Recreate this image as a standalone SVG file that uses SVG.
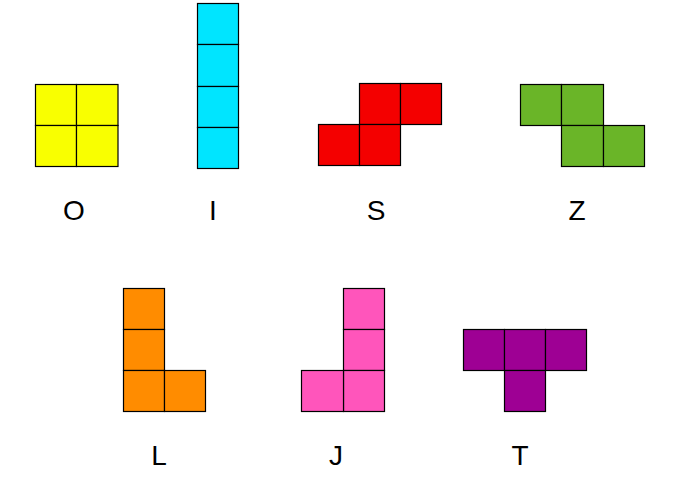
<svg xmlns="http://www.w3.org/2000/svg" width="679" height="488" viewBox="0 0 679 488">
<style>
.c{stroke:#000;stroke-width:1.2}
.o{fill:#F9FF00}.i{fill:#00E5FF}.s{fill:#F40000}.z{fill:#6AB528}
.l{fill:#FF8C00}.j{fill:#FF55BB}.t{fill:#9E0094}
text{font-family:"Liberation Sans",Arial,sans-serif;font-size:28px;fill:#000;text-anchor:middle}
</style>
<rect width="679" height="488" fill="#fff"/>
<g id="O">
<rect class="c o" x="35.5" y="84.5" width="41" height="41"/>
<rect class="c o" x="76.5" y="84.5" width="41.5" height="41"/>
<rect class="c o" x="35.5" y="125.5" width="41" height="41"/>
<rect class="c o" x="76.5" y="125.5" width="41.5" height="41"/>
<text x="74" y="220">O</text>
</g>
<g id="I">
<rect class="c i" x="197.5" y="3.5" width="41" height="41"/>
<rect class="c i" x="197.5" y="44.5" width="41" height="42"/>
<rect class="c i" x="197.5" y="86.5" width="41" height="41"/>
<rect class="c i" x="197.5" y="127.5" width="41" height="41"/>
<text x="213" y="220">I</text>
</g>
<g id="S">
<rect class="c s" x="359.5" y="83.5" width="41" height="41"/>
<rect class="c s" x="400.5" y="83.5" width="41" height="41"/>
<rect class="c s" x="318.5" y="124.5" width="41" height="41"/>
<rect class="c s" x="359.5" y="124.5" width="41" height="41"/>
<text x="376" y="220">S</text>
</g>
<g id="Z">
<rect class="c z" x="520.5" y="84.5" width="41" height="41"/>
<rect class="c z" x="561.5" y="84.5" width="42" height="41"/>
<rect class="c z" x="561.5" y="125.5" width="42" height="41"/>
<rect class="c z" x="603.5" y="125.5" width="41" height="41"/>
<text x="577" y="220">Z</text>
</g>
<g id="L">
<rect class="c l" x="123.5" y="288.5" width="41" height="41"/>
<rect class="c l" x="123.5" y="329.5" width="41" height="41"/>
<rect class="c l" x="123.5" y="370.5" width="41" height="41"/>
<rect class="c l" x="164.5" y="370.5" width="41" height="41"/>
<text x="159" y="465">L</text>
</g>
<g id="J">
<rect class="c j" x="343.5" y="288.5" width="41" height="41"/>
<rect class="c j" x="343.5" y="329.5" width="41" height="41"/>
<rect class="c j" x="343.5" y="370.5" width="41" height="41"/>
<rect class="c j" x="301.5" y="370.5" width="42" height="41"/>
<text x="336" y="465">J</text>
</g>
<g id="T">
<rect class="c t" x="463.5" y="329.5" width="41" height="41"/>
<rect class="c t" x="504.5" y="329.5" width="41" height="41"/>
<rect class="c t" x="545.5" y="329.5" width="41" height="41"/>
<rect class="c t" x="504.5" y="370.5" width="41" height="41"/>
<text x="520" y="465">T</text>
</g>
<g id="connectors"></g>
</svg>
